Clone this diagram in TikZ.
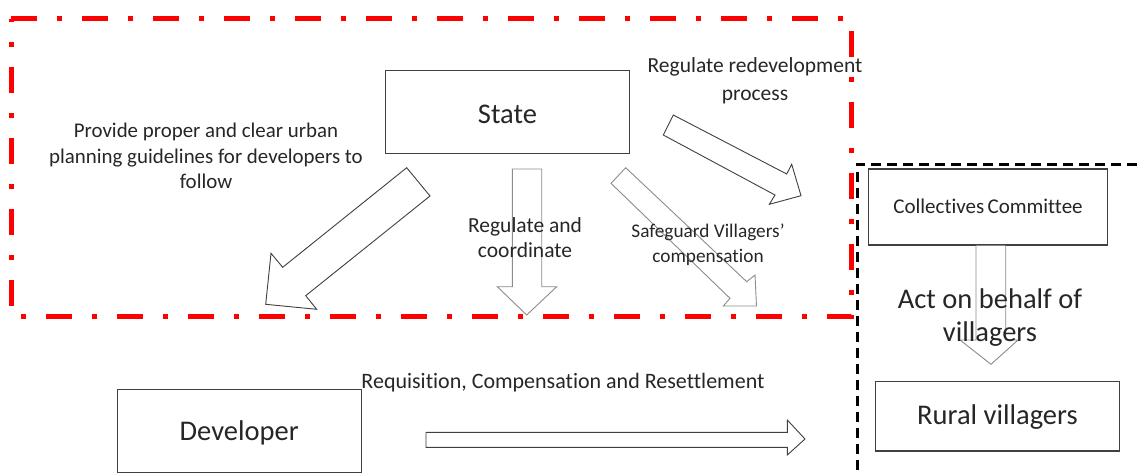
\documentclass[tikz,border=0pt]{standalone}
\usepackage{fontspec}
\setmainfont[Ligatures=NoCommon]{Carlito}
\begin{document}
\begin{tikzpicture}[x=1pt,y=-1pt,
  box/.style={draw=black!75, line width=1.1pt, fill=white, inner sep=0pt},
  lbl/.style={inner sep=0pt, align=center, text=black!85},
  big/.style={font=\fontsize{28.5}{33}\selectfont},
  barrow/.style={draw=black!75, line width=0.9pt, fill=white, line join=miter},
  larrow/.style={draw=black!45, line width=0.9pt, fill=white, line join=miter},
  redframe/.style={draw=red, line width=5pt, dash pattern=on 26pt off 20pt on 5pt off 20pt},
  blackframe/.style={draw=black, line width=3pt, dash pattern=on 10pt off 6pt}]
\useasboundingbox (0,0) rectangle (1137,475);
% frames
\draw[redframe] (11,18.5) -- (851,18.5) -- (851,316) -- (11,316) -- cycle;
\draw[blackframe] (1137,164) -- (857,164) -- (857,475);
% boxes
\node[box, minimum width=243.6pt, minimum height=83.3pt] (state) at (507.5,111.7) {};
\node[box, minimum width=243.7pt, minimum height=83pt] (dev) at (239.2,430.8) {};
\node[box, minimum width=239.4pt, minimum height=76pt] (cc) at (988,207) {};
\node[box, minimum width=243.6pt, minimum height=69.3pt] (rural) at (997.5,416.3) {};
% block arrows
\draw[barrow] (406.7,167.7) -- (282.7,267.3) -- (271,253.3) -- (265.7,304.3)
  -- (316.7,309.3) -- (305.7,295.7) -- (430,196) -- cycle;
\draw[larrow] (512.3,169) -- (512.3,286.7) -- (497.3,286.7) -- (526.7,315)
  -- (556.7,286.7) -- (541.7,286.7) -- (541.7,169) -- cycle;
\draw[larrow] (625.7,167.7) -- (746.7,281.7) -- (755,275) -- (756.5,306)
  -- (723.3,306) -- (730,298.3) -- (611,183.3) -- cycle;
\draw[barrow] (673.3,115) -- (786.7,174) -- (791.7,164.3) -- (801,195.7)
  -- (769.3,204.3) -- (775,195) -- (663.3,135) -- cycle;
\draw[larrow] (976,245.5) -- (976,340) -- (960,340) -- (991,364.3)
  -- (1018,340) -- (1005.7,340) -- (1005.7,245.5);
\draw[barrow] (426,432.3) -- (787.3,432.3) -- (787.3,420) -- (805,439)
  -- (787.3,455) -- (787.3,447.3) -- (426,447.3) -- cycle;
% texts
\node[lbl, big] (statetxt) at (507.5,114) {State};
\node[lbl, big] (devtxt) at (239.2,433) {Developer};
\node[lbl, font=\fontsize{21}{25}\selectfont] (cctxt) at (988,206) {Collectives\hspace{-1.5pt} Committee};
\node[lbl, big] (ruraltxt) at (997.5,417) {Rural villagers};
\node[lbl, font=\fontsize{20.9}{25.5}\selectfont] (provide) at (206,156) {Provide proper and clear urban\\planning guidelines for developers to\\follow};
\node[lbl, font=\fontsize{21.5}{25}\selectfont] (regcoord) at (525,238) {Regulate and\\coordinate};
\node[lbl, font=\fontsize{19.3}{25}\selectfont] (safe) at (708,245) {Safeguard Villagers’\\compensation};
\node[lbl, font=\fontsize{21.5}{28}\selectfont] (regredev) at (755,81) {Regulate redevelopment\\process};
\node[lbl, big] (act) at (990,318) {Act on behalf of\\villagers};
\node[lbl, font=\fontsize{22}{26}\selectfont] (req) at (563,383) {Requisition, Compensation and Resettlement};
\end{tikzpicture}
\end{document}
